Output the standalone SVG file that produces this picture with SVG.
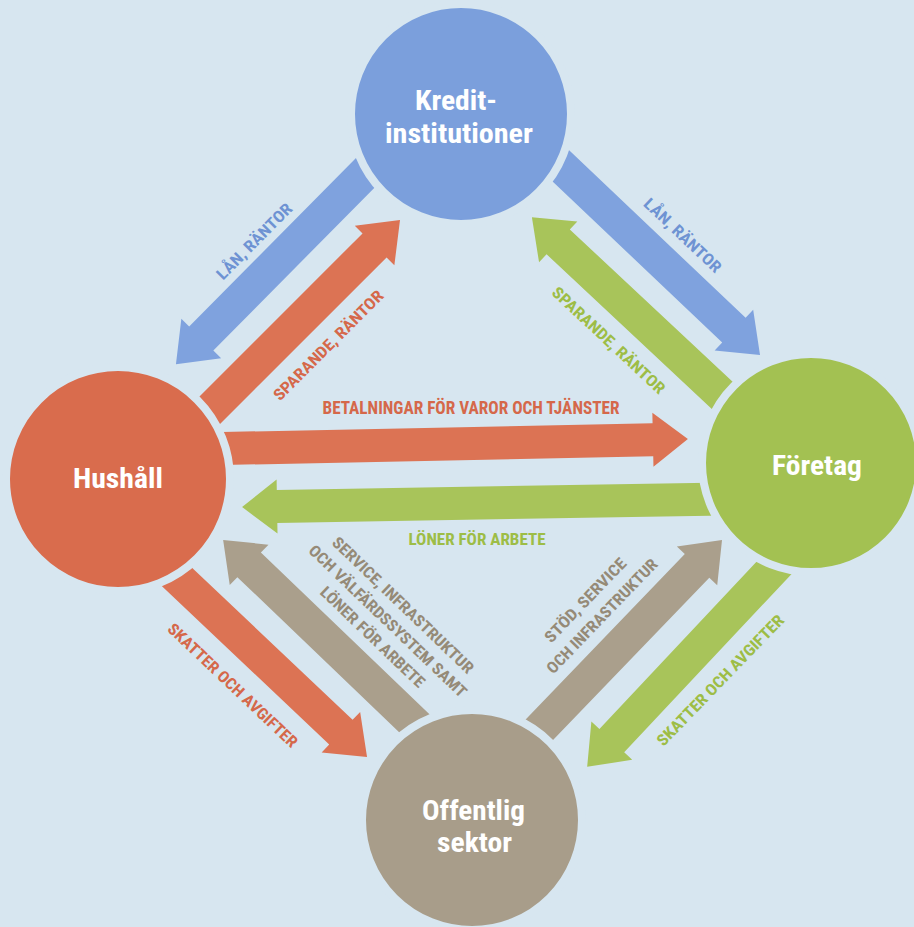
<svg xmlns="http://www.w3.org/2000/svg" width="914" height="927" viewBox="0 0 914 927">
<style>
.t{font-family:'Liberation Sans Narrow','Roboto Condensed','DejaVu Sans Condensed','Liberation Sans',Arial,sans-serif;font-weight:bold;text-anchor:middle}
.n{fill:#ffffff;font-size:28px}
.l{font-size:16px}
.blue{fill:#7fa2de}
.orange{fill:#dc7354}
.green{fill:#a8c45a}
.taupe{fill:#aa9f8c}
.tb{fill:#6e93d3}
.to{fill:#d5684a}
.tg{fill:#9dbd46}
.tt{fill:#958a77}
.node{stroke:#d7e6f0;stroke-width:8}
</style>
<rect width="914" height="927" fill="#d7e6f0"/>
<g id="connectors">
<polygon class="blue" transform="translate(375,163) rotate(134.7)" points="0,-17 247,-17 247,-28 283,0 247,28 247,17 0,17"/>
<polygon class="orange" transform="translate(190,430) rotate(-45)" points="0,-17 261,-17 261,-28 297,0 261,28 261,17 0,17"/>
<polygon class="blue" transform="translate(548.5,154.2) rotate(43.5)" points="0,-17 255.6,-17 255.6,-28 291.6,0 255.6,28 255.6,17 0,17"/>
<polygon class="green" transform="translate(740,412) rotate(223.1)" points="0,-17 249,-17 249,-28 285,0 249,28 249,17 0,17"/>
<polygon class="orange" transform="translate(200,449) rotate(-1.17)" points="0,-16.5 453,-16.5 453,-27 488,0 453,27 453,16.5 0,16.5"/>
<polygon class="green" transform="translate(725,499) rotate(179.05)" points="0,-16.5 448,-16.5 448,-27 483,0 448,27 448,16.5 0,16.5"/>
<polygon class="orange" transform="translate(158.9,559.8) rotate(43.45)" points="0,-17 250.7,-17 250.7,-28 286.7,0 250.7,28 250.7,17 0,17"/>
<polygon class="taupe" transform="translate(431,739.3) rotate(223.8)" points="0,-17 252,-17 252,-28 288,0 252,28 252,17 0,17"/>
<polygon class="taupe" transform="translate(523.7,746) rotate(-46.1)" points="0,-17 250,-17 250,-28 286,0 250,28 250,17 0,17"/>
<polygon class="green" transform="translate(789.1,551.8) rotate(133.2)" points="0,-17 259,-17 259,-28 295,0 259,28 259,17 0,17"/>
</g>
<g id="node-kredit">
<circle class="node" cx="461" cy="114" r="110" fill="#7b9fdc"/>
<text class="t n" x="456" y="110" textLength="82" lengthAdjust="spacingAndGlyphs">Kredit-</text>
<text class="t n" x="459" y="143" textLength="148" lengthAdjust="spacingAndGlyphs">institutioner</text>
</g>
<g id="node-hushall">
<circle class="node" cx="118" cy="479" r="112" fill="#d96c4d"/>
<text class="t n" x="118" y="488" textLength="90" lengthAdjust="spacingAndGlyphs">Hushåll</text>
</g>
<g id="node-foretag">
<circle class="node" cx="811" cy="463" r="109" fill="#a3c152"/>
<text class="t n" x="817" y="475" textLength="90" lengthAdjust="spacingAndGlyphs">Företag</text>
</g>
<g id="node-offentlig">
<circle class="node" cx="472" cy="820" r="110" fill="#a89d8a"/>
<text class="t n" x="473.5" y="820" textLength="103" lengthAdjust="spacingAndGlyphs">Offentlig</text>
<text class="t n" x="474.5" y="852" textLength="75" lengthAdjust="spacingAndGlyphs">sektor</text>
</g>
<g id="labels">
<text class="t l tb" transform="translate(254,241) rotate(-45.3)" x="0" y="6" textLength="100" lengthAdjust="spacingAndGlyphs">LÅN, RÄNTOR</text>
<text class="t l to" transform="translate(328,345) rotate(-45)" x="0" y="6" textLength="148" lengthAdjust="spacingAndGlyphs">SPARANDE, RÄNTOR</text>
<text class="t l tb" transform="translate(683,235) rotate(43.5)" x="0" y="6" textLength="100" lengthAdjust="spacingAndGlyphs">LÅN, RÄNTOR</text>
<text class="t l tg" transform="translate(609,340) rotate(43.1)" x="0" y="6" textLength="148" lengthAdjust="spacingAndGlyphs">SPARANDE, RÄNTOR</text>
<text class="t to" x="471" y="414" font-size="18" textLength="297" lengthAdjust="spacingAndGlyphs">BETALNINGAR FÖR VAROR OCH TJÄNSTER</text>
<text class="t tg" x="477" y="545" font-size="17" textLength="137" lengthAdjust="spacingAndGlyphs">LÖNER FÖR ARBETE</text>
<text class="t l to" transform="translate(233,685) rotate(43.45)" x="0" y="6" textLength="172" lengthAdjust="spacingAndGlyphs">SKATTER OCH AVGIFTER</text>
<g transform="translate(349.35,661.1) rotate(43.8)">
<text class="t l tt" x="0" y="-72" textLength="189" lengthAdjust="spacingAndGlyphs">SERVICE, INFRASTRUKTUR</text>
<text class="t l tt" x="0" y="-50" textLength="212" lengthAdjust="spacingAndGlyphs">OCH VÄLFÄRDSSYSTEM SAMT</text>
<text class="t l tt" x="0" y="-28" textLength="138" lengthAdjust="spacingAndGlyphs">LÖNER FÖR ARBETE</text>
</g>
<g transform="translate(626.2,639.4) rotate(-46.1)">
<text class="t l tt" x="0" y="-51" textLength="110" lengthAdjust="spacingAndGlyphs">STÖD, SERVICE</text>
<text class="t l tt" x="0" y="-28" textLength="152" lengthAdjust="spacingAndGlyphs">OCH INFRASTRUKTUR</text>
</g>
<text class="t l tg" transform="translate(720,680) rotate(-46)" x="0" y="6" textLength="175" lengthAdjust="spacingAndGlyphs">SKATTER OCH AVGIFTER</text>
</g>
</svg>
